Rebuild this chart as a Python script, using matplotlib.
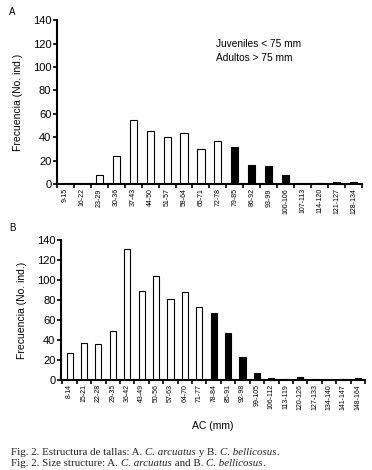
import matplotlib
matplotlib.use("Agg")
import matplotlib.pyplot as plt
import numpy as np

# panel A: C. arcuatus
clases_a = ['9-15', '16-22', '23-29', '30-36', '37-43', '44-50', '51-57', '58-64',
            '65-71', '72-78', '79-85', '86-92', '93-99', '100-106', '107-113',
            '114-120', '121-127', '128-134']
frec_a = [0, 0, 8, 24, 55, 45, 40, 44, 30, 37, 32, 16, 15, 8, 0, 1, 2, 2]
adulto_a = [False] * 10 + [True] * 8

# panel B: C. bellicosus
clases_b = ['8-14', '15-21', '22-28', '29-35', '36-42', '43-49', '50-56', '57-63',
            '64-70', '71-77', '78-84', '85-91', '92-98', '99-105', '106-112',
            '113-119', '120-126', '127-133', '134-140', '141-147', '148-164']
frec_b = [27, 37, 36, 49, 131, 89, 104, 81, 88, 73, 67, 47, 23, 7, 2, 1, 3, 1, 0, 1, 2]
adulto_b = [False] * 10 + [True] * 11

# caption pieces: (text, italic?)
leyenda1 = [('Fig. 2. Estructura de tallas: A. ', False), ('C. arcuatus', True),
            (' y B. ', False), ('C. bellicosus', True), ('.', False)]
leyenda2 = [('Fig. 2. Size structure: A. ', False), ('C. arcuatus', True),
            (' and B. ', False), ('C. bellicosus', True), ('.', False)]

plt.rcParams['font.family'] = ['Liberation Sans', 'DejaVu Sans']

fig = plt.figure(figsize=(3.72, 4.70), dpi=100)
ax1 = fig.add_axes([0.153, 0.6085, 0.82, 0.3485])
ax2 = fig.add_axes([0.164, 0.1915, 0.817, 0.2975])


def histo(ax, clases, frec, adulto, xlim):
    x = np.arange(len(clases))
    colores = ['black' if a else 'white' for a in adulto]
    ax.bar(x, frec, width=0.42, color=colores, edgecolor='black', linewidth=0.8)
    ax.set_xlim(*xlim)
    ax.set_ylim(0, 140)
    ax.set_yticks(np.arange(0, 141, 20))
    ax.set_xticks(x)
    ax.set_xticklabels(clases, rotation=90, fontsize=5)
    ax.set_xticks(np.arange(len(clases) + 1) - 0.5, minor=True)
    ax.tick_params(axis='x', which='major', length=0, pad=3)
    ax.tick_params(axis='x', which='minor', length=3, width=1.2, direction='out')
    ax.tick_params(axis='y', labelsize=8, length=3, width=1.2, pad=1)
    for s in ['top', 'right']:
        ax.spines[s].set_visible(False)
    for s in ['left', 'bottom']:
        ax.spines[s].set_linewidth(1.5)
    ax.set_ylabel('Frecuencia (No. ind.)', fontsize=7.5, labelpad=7)


histo(ax1, clases_a, frec_a, adulto_a, (-0.35, 17.3))
histo(ax2, clases_b, frec_b, adulto_b, (-0.6, 20.4))

ax1.text(0.52, 0.885, 'Juveniles < 75 mm\nAdultos > 75 mm', transform=ax1.transAxes,
         fontsize=7.3, va='top', linespacing=1.45)
ax2.set_xlabel('AC (mm)', fontsize=7.5, labelpad=8)

fig.text(0.025, 0.968, 'A', fontsize=7)
fig.text(0.025, 0.508, 'B', fontsize=7)

# caption drawn piece by piece so italics sit inline
renderer = fig.canvas.get_renderer()


def leyenda(partes, y):
    x = 0.03
    for txt, ital in partes:
        t = fig.text(x, y, txt, fontsize=7.8, family='Liberation Serif',
                     style='italic' if ital else 'normal', color='#222222')
        bb = t.get_window_extent(renderer=renderer)
        x += bb.width / fig.bbox.width


leyenda(leyenda1, 0.032)
leyenda(leyenda2, 0.008)

fig.savefig('out.png', dpi=100)
